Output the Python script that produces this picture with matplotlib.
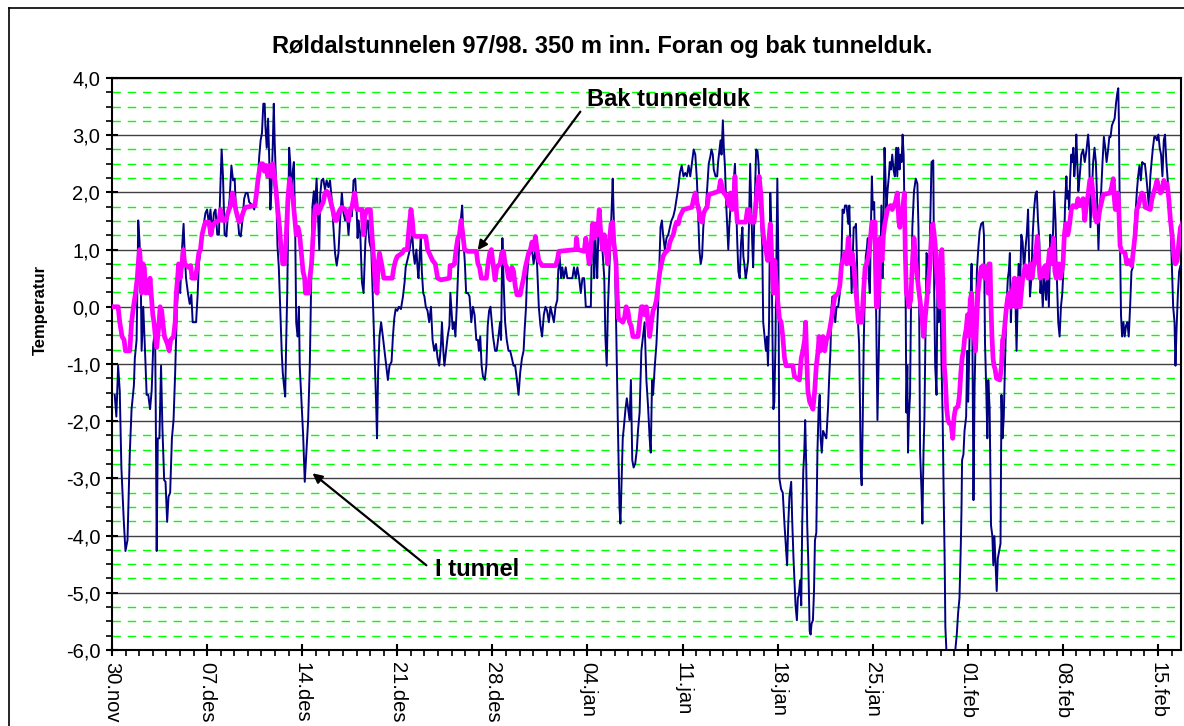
import numpy as np
import matplotlib
matplotlib.use('Agg')
import matplotlib.pyplot as plt
from matplotlib.ticker import MultipleLocator, FixedLocator
from matplotlib.lines import Line2D

plt.rcParams['font.family'] = ['Liberation Sans', 'DejaVu Sans']

# dager etter 30.nov
tick_labels = ['30.nov', '07.des', '14.des', '21.des', '28.des', '04.jan',
               '11.jan', '18.jan', '25.jan', '01.feb', '08.feb', '15.feb']

# I tunnel (blaa)
blue_day = [
    0.20, 0.32, 0.45, 0.57, 0.69, 0.87, 0.99, 1.14, 1.31, 1.44, 1.61, 1.68, 1.81, 1.88, 1.93,
    2.03, 2.13, 2.18, 2.30, 2.43, 2.55, 2.67, 2.80, 2.92, 3.04, 3.17, 3.22, 3.29, 3.37, 3.49,
    3.61, 3.71, 3.84, 3.94, 4.06, 4.16, 4.28, 4.41, 4.53, 4.65, 4.78, 4.90, 5.02, 5.15, 5.27,
    5.35, 5.45, 5.59, 5.72, 5.84, 5.94, 6.19, 6.31, 6.39, 6.53, 6.63, 6.76, 6.88, 7.00, 7.13,
    7.25, 7.38, 7.50, 7.62, 7.75, 7.87, 7.95, 8.07, 8.17, 8.29, 8.42, 8.54, 8.66, 8.79, 8.91,
    9.03, 9.11, 9.23, 9.36, 9.48, 9.60, 9.73, 9.85, 9.98, 10.10, 10.35, 10.47, 10.59, 10.72, 10.84,
    10.94, 11.04, 11.14, 11.24, 11.29, 11.39, 11.49, 11.58, 11.66, 11.73, 11.83, 11.91, 11.98, 12.08, 12.18,
    12.28, 12.38, 12.50, 12.57, 12.65, 12.75, 12.82, 12.90, 12.97, 13.04, 13.12, 13.19, 13.32, 13.39, 13.49,
    13.56, 13.66, 13.76,
    13.82, 13.95, 14.07, 14.19, 14.32, 14.44, 14.56, 14.69, 14.76, 14.86, 14.94, 15.06, 15.18, 15.26, 15.33,
    15.43, 15.55, 15.68, 15.80, 15.93, 16.05, 16.17, 16.30, 16.42, 16.54, 16.67, 16.79, 16.92, 17.04, 17.16,
    17.29, 17.41, 17.54, 17.66, 17.78, 17.91, 17.98, 18.08, 18.15, 18.28, 18.40, 18.52, 18.65, 18.72, 18.82,
    18.95, 19.09, 19.19, 19.27, 19.34, 19.44, 19.51, 19.59, 19.69, 19.81, 19.94, 20.06, 20.18, 20.31, 20.43,
    20.58, 20.68, 20.78, 20.88, 21.00, 21.12, 21.27, 21.42, 21.54, 21.62, 21.74, 21.87, 21.99, 22.11, 22.19,
    22.29, 22.41, 22.49, 22.56, 22.66, 22.73, 22.81, 22.91, 23.00, 23.10, 23.23, 23.35, 23.48, 23.60, 23.72,
    23.85, 23.97, 24.09, 24.22, 24.29, 24.39, 24.47, 24.59, 24.71, 24.84, 24.91, 25.01, 25.08, 25.18, 25.28,
    25.38, 25.48, 25.58, 25.70, 25.78, 25.88, 25.98, 26.07, 26.20, 26.32, 26.45, 26.57, 26.69, 26.82, 26.94,
    27.01, 27.11, 27.21, 27.31, 27.44, 27.56, 27.66, 27.76, 27.86, 27.96, 28.05,
    28.20, 28.32, 28.45, 28.57, 28.64, 28.74, 28.82, 28.94, 29.06, 29.19, 29.31, 29.44, 29.56, 29.68, 29.81,
    29.93, 30.05, 30.18, 30.30, 30.38, 30.48, 30.55, 30.67, 30.80, 30.92, 31.04, 31.17, 31.29, 31.42, 31.54,
    31.66, 31.79, 31.91, 32.03, 32.16, 32.28, 32.41, 32.53, 32.65, 32.78, 32.85, 32.95, 33.07, 33.15, 33.27,
    33.40, 33.52, 33.89, 34.01, 34.14, 34.26, 34.39, 34.51, 34.63, 34.76, 34.88, 35.25, 35.33, 35.43, 35.50,
    35.57, 35.65, 35.72, 35.80, 35.87, 35.95, 36.02, 36.12, 36.24, 36.32, 36.42, 36.51, 36.61, 36.71, 36.81,
    36.86, 36.94, 37.03, 37.11, 37.23, 37.36, 37.43, 37.50, 37.60, 37.68, 37.80, 37.90, 38.00, 38.10, 38.20,
    38.30, 38.40, 38.52, 38.64, 38.72, 38.84, 38.97, 39.09, 39.21, 39.34, 39.46, 39.58, 39.66, 39.76, 39.83,
    39.96, 40.08, 40.20, 40.28, 40.38, 40.48, 40.57, 40.70, 40.82, 40.95, 41.07, 41.19, 41.32, 41.44, 41.56,
    41.69, 41.81, 41.94,
    42.07, 42.20, 42.32, 42.45, 42.57, 42.69, 42.82, 42.94, 43.06, 43.14, 43.24, 43.34, 43.44, 43.53, 43.63,
    43.73, 43.83, 43.93, 44.05, 44.13, 44.23, 44.30, 44.43, 44.55, 44.62, 44.72, 44.80, 44.87, 44.97, 45.04,
    45.12, 45.22, 45.29, 45.37, 45.44, 45.54, 45.66, 45.79, 45.86, 45.96, 46.03, 46.11, 46.21, 46.31, 46.41,
    46.48, 46.55, 46.65, 46.73, 46.83, 46.90, 46.98, 47.05, 47.13, 47.20, 47.27, 47.35, 47.42, 47.52, 47.59,
    47.69, 47.79, 47.87, 47.94, 48.04, 48.14, 48.22, 48.29, 48.37, 48.46, 48.54, 48.61, 48.69, 48.76, 48.84,
    48.91, 48.98, 49.06, 49.13, 49.26, 49.38, 49.51, 49.63, 49.70, 49.78, 49.87, 50.00, 50.07, 50.17, 50.24,
    50.32, 50.42, 50.49, 50.56, 50.66, 50.74, 50.81, 50.89, 50.96, 51.03, 51.11, 51.18, 51.26, 51.31, 51.36,
    51.43, 51.50, 51.60, 51.68, 51.75, 51.85, 51.93, 52.02, 52.10, 52.17, 52.25, 52.35, 52.47, 52.59, 52.72,
    52.79, 52.89, 52.97, 53.04, 53.14, 53.24, 53.34, 53.46, 53.58, 53.71, 53.78, 53.88, 53.96, 54.08, 54.20,
    54.28, 54.38, 54.45, 54.52, 54.60, 54.70, 54.77, 54.85, 54.92, 55.00, 55.07, 55.12, 55.19, 55.27, 55.34,
    55.42, 55.49, 55.56, 55.64, 55.71, 55.79, 55.86, 55.94, 56.01, 56.11,
    56.25, 56.35, 56.45, 56.54, 56.64, 56.72, 56.79, 56.87, 56.94, 57.01, 57.09, 57.19, 57.26, 57.34, 57.44,
    57.53, 57.63, 57.73, 57.81, 57.88, 57.98, 58.05, 58.13, 58.20, 58.28, 58.35, 58.43, 58.48, 58.55, 58.60,
    58.67, 58.75, 58.82, 58.92, 59.04, 59.17, 59.29, 59.37, 59.42, 59.49, 59.59, 59.66, 59.74, 59.81, 59.89,
    59.96, 60.06, 60.16, 60.23, 60.33, 60.46, 60.53, 60.60, 60.70, 60.78, 60.85, 60.93, 61.00, 61.07, 61.15,
    61.22, 61.30, 61.35, 61.42, 61.50, 61.69, 61.94, 62.09, 62.19, 62.29, 62.39, 62.49, 62.54, 62.58, 62.68,
    62.76, 62.88, 62.96, 63.03, 63.13, 63.20, 63.28, 63.33, 63.42, 63.50, 63.57, 63.67, 63.77, 63.87, 63.99,
    64.12, 64.19, 64.27, 64.37, 64.44, 64.51, 64.61, 64.71, 64.81, 64.88, 64.96, 65.06, 65.13, 65.21, 65.31,
    65.41, 65.48, 65.56, 65.65, 65.75, 65.85, 65.95, 66.02, 66.10, 66.17, 66.25, 66.35, 66.42, 66.52, 66.59,
    66.67, 66.74, 66.84, 66.94, 67.04, 67.14, 67.24, 67.34, 67.44, 67.51, 67.58, 67.68, 67.78, 67.88, 67.98,
    68.08, 68.17, 68.27, 68.35, 68.42, 68.52, 68.62, 68.70, 68.77, 68.87, 68.97, 69.07, 69.17, 69.27, 69.36,
    69.46, 69.56, 69.66, 69.76, 69.86, 69.96, 70.06, 70.16, 70.26,
    70.32, 70.40, 70.47, 70.54, 70.62, 70.69, 70.77, 70.84, 70.92, 70.99, 71.06, 71.14, 71.24, 71.36, 71.49,
    71.61, 71.73, 71.86, 71.93, 72.03, 72.13, 72.23, 72.33, 72.43, 72.52, 72.62, 72.72, 72.82, 72.92, 73.02,
    73.12, 73.22, 73.32, 73.42, 73.51, 73.61, 73.71, 73.81, 73.91, 74.01, 74.08, 74.13, 74.21, 74.28, 74.36,
    74.46, 74.55, 74.65, 74.75, 74.85, 74.95, 75.05, 75.15, 75.25, 75.35, 75.45, 75.54, 75.64, 75.74, 75.84,
    75.94, 76.04, 76.14, 76.24, 76.34, 76.44, 76.53, 76.63, 76.73, 76.83, 76.93, 77.03, 77.13, 77.23, 77.33,
    77.43, 77.52, 77.62, 77.72, 77.82, 77.92, 78.02, 78.12, 78.22, 78.29, 78.37, 78.47, 78.56, 78.66, 78.76,
    78.86]
blue_temp = [
    -1.54, -1.92, -1.03, -1.47, -2.81, -3.76, -4.27, -4.08, -2.55, -1.79, -1.38, -0.90, -0.58, 0.50, 1.51,
    1.13, 0.24, -0.77, 0.00, -0.77, -1.54, -1.54, -1.79, -1.47, -0.65, -0.39, -1.79, -4.27, -2.30, -2.30,
    -1.03, -2.11, -3.03, -3.06, -3.76, -3.32, -3.25, -2.30, -1.98, -1.15, 0.00, 0.43, 0.24, 1.00, 1.45,
    0.94, 0.50, 0.24, 0.05, 0.21, -0.27, -0.27, 0.24, 0.75, 1.00, 1.26, 1.45, 1.64, 1.70, 1.45,
    1.70, 1.26, 1.64, 1.70, 1.26, 1.26, 1.89, 2.75, 2.28, 1.26, 1.23, 1.64, 1.89, 2.47, 2.21,
    2.24, 1.77, 1.64, 1.26, 1.23, 1.51, 1.89, 1.99, 1.99, 1.83, 1.77, 1.70, 1.96, 2.15, 2.63,
    2.91, 3.04, 3.55, 3.55, 3.17, 2.78, 3.29, 2.53, 1.70, 2.02, 2.78, 3.55, 2.85, 2.15, 1.07,
    0.69, 0.00, -0.83, -1.15, -1.35, -1.57, -0.65, 0.24, 1.45, 2.78, 2.53, 2.02, 2.40, 2.53, 1.26,
    -0.27, -0.52, 0.00,
    -1.03, -1.66, -2.24, -3.06, -2.49, -1.98, -1.03, 0.75, 1.77, 2.02, 1.70, 2.24, 1.51, 1.00, 1.96,
    2.21, 2.24, 2.05, 2.21, 2.09, 2.21, 1.89, 1.39, 0.94, 0.72, 0.94, 1.51, 1.99, 1.64, 1.51,
    1.64, 1.26, 1.70, 1.58, 2.21, 2.24, 1.89, 1.20, 1.51, 1.26, 0.43, 0.24, 1.13, 1.39, 1.51,
    1.13, 1.00, 0.24, -0.39, -0.96, -1.66, -2.30, -1.15, -0.52, -0.27, -0.52, -0.77, -1.03, -1.28, -1.03,
    -0.96, -0.52, -0.20, -0.04, -0.07, 0.00, -0.04, 0.18, 0.43, 0.69, 0.81, 0.94, 1.13, 1.26, 0.94,
    0.75, 1.00, 0.69, 0.50, 0.94, 1.20, 0.62, 0.24, 0.18, 0.00, -0.07, -0.27, 0.00, -0.58, -0.77,
    -0.65, -0.90, -1.03, -0.65, -0.27, -0.77, -1.03, -0.77, -0.52, -0.33, 0.24, -0.14, -0.39, -0.27, -0.52,
    0.00, 0.62, 1.26, 1.58, 1.77, 1.13, 0.75, 0.24, 0.24, 0.18, -0.27, 0.00, -0.14, -0.58, -0.58,
    -0.77, -0.52, -1.03, -1.22, -1.28, -1.03, -0.33, -0.07, 0.00, -0.27, -0.52,
    -0.77, -0.77, -0.52, -0.27, -0.58, 1.20, 0.50, -0.27, -0.58, -0.77, -0.77, -0.90, -1.03, -1.03, -1.28,
    -1.54, -1.15, -0.90, -0.77, -0.39, 0.00, 0.50, 0.88, 0.94, 1.00, 0.75, 1.00, 0.75, 0.00, -0.33,
    -0.52, -0.14, 0.00, -0.07, -0.27, 0.00, -0.14, -0.27, 0.00, 0.12, 0.62, 0.88, 0.50, 0.69, 0.50,
    0.69, 0.50, 0.50, 0.69, 0.50, 0.69, 0.50, 0.24, 0.50, 0.50, 0.00, 0.00, 1.13, 1.39, 0.50,
    1.26, 0.88, 0.50, 1.26, 1.39, 1.70, 1.26, 0.94, 0.50, -0.52, -1.03, 0.00, 0.62, 1.26, 1.89,
    2.24, 1.51, 0.75, -0.27, -1.92, -3.51, -3.79, -3.19, -2.30, -2.11, -1.79, -1.60, -1.79, -1.98, -1.28,
    -2.68, -2.81, -2.74, -2.49, -2.17, -1.85, -0.77, -0.52, -0.27, -1.28, -1.73, -2.30, -2.55, -1.28, -1.54,
    -1.03, -0.65, 0.00, 0.62, 1.39, 1.51, 1.26, 1.00, 1.20, 1.26, 1.39, 1.51, 1.58, 1.70, 1.89,
    2.09, 2.34, 2.47,
    2.28, 2.34, 2.28, 2.47, 2.28, 2.50, 2.75, 2.66, 2.21, 1.70, 1.00, 0.75, 0.88, 1.39, 1.70,
    1.77, 2.12, 2.50, 2.63, 2.75, 2.66, 2.40, 2.28, 2.28, 2.53, 2.75, 2.91, 2.66, 3.26, 2.78,
    2.47, 1.77, 1.39, 1.00, 1.39, 1.77, 1.83, 2.28, 2.50, 1.70, 1.13, 0.62, 0.50, 1.13, 1.39,
    0.88, 0.75, 0.50, 0.62, 0.81, 1.51, 2.50, 1.89, 1.13, 0.69, 1.39, 2.09, 2.75, 2.72, 2.53,
    2.02, 1.51, 1.07, -0.27, -0.52, -0.77, -0.52, -1.03, -0.27, 1.99, 1.39, -0.27, -1.79, -1.66, -0.65,
    0.88, 2.24, 0.75, -3.00, -3.19, -3.25, -3.82, -4.27, -4.52, -3.82, -3.32, -3.06, -3.70, -4.40, -4.78,
    -5.22, -5.48, -5.09, -5.03, -4.78, -5.22, -3.82, -2.87, -2.55, -1.98, -2.81, -3.82, -4.46, -5.09, -5.67,
    -5.73, -5.54, -5.48, -4.97, -4.08, -3.95, -2.55, -1.79, -1.54, -2.30, -2.55, -2.17, -2.24, -2.30, -1.73,
    -1.28, -0.77, 0.00, 0.18, 0.12, -0.27, 0.00, 0.00, 0.24, 0.94, 1.70, 1.64, 1.77, 1.77, 1.45,
    1.77, 0.88, 0.24, 0.75, 1.39, 1.39, 1.45, 0.75, -0.27, -0.65, -1.79, -2.87, -3.12, -1.92, -0.65,
    0.24, 0.88, 1.00, 1.20, 0.50, 0.24, 1.26, 2.28, 1.70, 1.83,
    0.00, -1.98, -0.77, 0.24, 1.77, 0.50, 1.39, 2.78, 2.28, 1.70, 2.02, 2.28, 2.53, 2.40, 2.66,
    2.40, 2.28, 2.78, 2.28, 2.78, 2.40, 2.66, 2.53, 3.01, 2.66, 1.51, 0.00, -1.85, -1.03, -2.55,
    -1.92, -1.54, 0.00, 1.39, 2.02, 2.24, 2.15, 1.39, 0.00, -2.55, -3.19, -3.79, -2.55, -1.92, -0.39,
    0.94, 0.88, 0.24, 1.39, 2.53, 2.56, 0.24, -1.03, -1.54, 0.75, -0.27, 0.62, 0.00, -1.03, -1.92,
    -3.19, -4.46, -5.60, -5.98, -6.11, -6.50, -6.30, -5.98, -5.73, -5.35, -5.09, -4.14, -3.51, -2.68, -2.58,
    -2.17, -1.92, -0.77, -1.66, -0.52, 0.12, 0.75, -0.14, -3.38, -1.41, -0.65, 0.62, 1.00, 1.32, 1.45,
    1.48, 1.26, -0.65, -1.54, -2.30, -1.28, -1.79, -3.82, -4.01, -4.52, -4.01, -4.59, -4.97, -4.40, -4.27,
    -4.14, -1.54, -2.30, -1.92, -0.90, 0.00, 0.50, 0.62, 0.94, -0.27, 0.24, 0.50, 0.24, 0.00, -0.77,
    0.00, 0.75, 0.24, 1.26, 1.13, 0.62, 1.00, 1.26, 1.70, 0.88, 0.18, 0.50, 1.26, 1.70, 1.96,
    2.02, 1.51, 1.13, 0.24, 0.50, 0.00, 0.50, 0.37, 0.12, 0.75, 0.00, 1.26, 1.00, 1.26, 2.02,
    1.51, 0.50, -0.27, -0.52, 0.00, 0.24, 0.75, 1.77, 2.28,
    1.89, 2.02, 1.70, 2.28, 2.66, 2.53, 2.78, 2.28, 2.53, 3.01, 2.53, 2.02, 2.28, 2.66, 2.75,
    2.53, 2.72, 3.01, 2.78, 1.39, 1.96, 2.53, 2.78, 2.53, 1.89, 1.00, 1.77, 2.02, 2.53, 2.97,
    2.78, 2.53, 2.72, 2.97, 2.97, 3.17, 3.23, 3.29, 3.55, 3.74, 3.82, 3.17, 1.07, -0.14, -0.52,
    -0.27, -0.52, -0.33, -0.27, -0.52, 0.00, 0.62, 0.69, 1.26, 1.64, 2.02, 2.28, 2.47, 2.21, 2.53,
    2.50, 2.50, 2.28, 2.02, 1.70, 2.28, 2.53, 2.78, 2.97, 2.97, 2.91, 3.01, 2.78, 2.66, 2.28,
    2.91, 3.01, 2.53, 2.21, 1.89, 1.51, 0.75, 0.00, -0.27, -1.03, -0.39, 0.24, 0.62, 0.72, 0.69,
    0.75]

# Bak tunnelduk (rosa)
pink_day = [
    0.07, 0.45, 0.57, 0.74, 0.89, 0.99, 1.31, 1.44, 1.58, 1.73, 1.86, 1.93, 2.03, 2.10, 2.18,
    2.28, 2.38, 2.48, 2.57, 2.70, 2.80, 2.92, 3.00, 3.09, 3.19, 3.29, 3.37, 3.47, 3.54, 3.66,
    3.74, 3.86, 3.96, 4.08, 4.21, 4.31, 4.53, 4.65, 4.73, 4.83, 4.90, 5.02, 5.15, 5.25, 5.35,
    5.64, 5.79, 5.89, 6.14, 6.26, 6.39, 6.51, 6.63, 6.76, 6.88, 7.13, 7.28, 7.38, 7.50, 7.62,
    7.87, 7.99, 8.12, 8.37, 8.49, 8.61, 8.74, 8.86, 8.98, 9.11, 9.23, 9.36, 9.48, 9.60, 9.73,
    9.85, 10.52, 10.64, 10.74, 10.84, 10.97, 11.09, 11.21, 11.34, 11.46, 11.58, 11.71, 11.83, 11.96, 12.08,
    12.20, 12.33, 12.45, 12.57, 12.70, 12.82, 12.95, 13.07, 13.19, 13.32, 13.44, 13.56, 13.69, 13.81, 13.94,
    14.06, 14.18,
    14.24, 14.49, 14.56, 14.69, 14.81, 14.94, 15.06, 15.18, 15.31, 15.43, 15.55, 15.68, 15.80, 15.93, 16.05,
    16.17, 16.30, 16.42, 16.54, 16.67, 16.79, 16.92, 17.16, 17.29, 17.41, 17.54, 17.66, 17.78, 17.86, 17.96,
    18.03, 18.40, 18.52, 18.60, 18.77, 19.02, 19.09, 19.19, 19.29, 19.39, 19.51, 19.59, 19.69, 19.79, 19.89,
    20.01, 20.63, 20.75, 20.88, 21.00, 21.37, 21.50, 21.74, 21.82, 21.92, 22.01, 22.11, 22.19, 22.36, 23.10,
    23.23, 23.35, 23.60, 23.80, 23.97, 24.22, 24.84, 24.89, 25.08, 25.21, 25.33, 25.46, 25.58, 25.70, 25.83,
    25.95, 26.20, 26.82, 26.94, 27.06, 27.19, 27.56, 27.68, 27.81, 27.93, 28.05,
    28.20, 28.32, 28.45, 28.57, 28.69, 28.82, 28.94, 29.06, 29.19, 29.31, 29.44, 29.56, 29.68, 29.81, 30.05,
    30.18, 30.30, 30.43, 30.55, 30.67, 30.80, 30.92, 31.04, 31.17, 31.29, 31.42, 31.66, 32.65, 32.78, 32.90,
    34.14, 34.19, 34.29, 34.76, 34.88, 35.00, 35.13, 35.25, 35.38, 35.50, 35.62, 35.75, 35.87, 35.95, 36.04,
    36.12, 36.24, 36.37, 36.49, 36.61, 36.74, 36.86, 36.94, 37.01, 37.11, 37.18, 37.28, 37.60, 37.72, 37.85,
    37.98, 38.10, 38.22, 38.35, 38.72, 38.84, 38.97, 39.09, 39.21, 39.34, 39.46, 39.58, 39.71, 39.83, 39.96,
    40.08, 40.20, 40.33, 40.45, 40.57, 40.70, 40.95, 41.07, 41.19, 41.32, 41.44, 41.56, 41.69, 41.81, 41.94,
    42.06,
    42.69, 42.82, 42.94, 43.06, 43.19, 43.31, 43.44, 43.56, 43.68, 43.81, 43.93, 44.67, 44.80, 44.92, 45.04,
    45.17, 45.29, 45.42, 45.54, 45.66, 45.79, 45.86, 45.96, 46.03, 46.65, 46.78, 46.90, 47.02, 47.27, 47.40,
    47.52, 47.64, 47.77, 47.89, 48.01, 48.14, 48.26, 48.39, 48.46, 48.56, 48.69, 48.78, 48.88, 49.00, 49.13,
    49.26, 49.38, 49.51, 49.63, 50.12, 50.24, 50.61, 50.74, 50.86, 50.99, 51.06, 51.16, 51.23, 51.36, 51.60,
    51.73, 51.85, 51.98, 52.05, 52.15, 52.25, 52.35, 52.47, 52.59, 52.72, 52.84, 52.97, 53.09, 53.21, 53.46,
    53.58, 53.71, 53.83, 53.96, 54.08, 54.20, 54.28, 54.38, 54.48, 54.60, 54.72, 54.82, 54.95, 55.19, 55.32,
    55.44, 55.56, 55.69, 55.81, 55.94, 56.18,
    56.20, 56.27, 56.35, 56.45, 56.54, 56.62, 56.69, 56.79, 56.89, 57.09, 57.31, 57.44, 57.56, 57.68, 57.81,
    57.93, 58.00, 58.10, 58.20, 58.33, 58.40, 58.48, 58.57, 58.67, 58.80, 58.92, 59.04, 59.17, 59.29, 59.42,
    59.54, 59.66, 59.74, 59.84, 59.94, 60.03, 60.13, 60.23, 60.33, 60.43, 60.53, 60.63, 60.73, 60.83, 60.93,
    61.02, 61.10, 61.20, 61.27, 61.35, 61.45, 61.54, 61.64, 61.77, 61.89, 61.99, 62.09, 62.29, 62.39, 62.49,
    62.58, 62.68, 62.78, 62.88, 62.98, 63.08, 63.18, 63.28, 63.38, 63.47, 63.57, 63.65, 63.75, 63.87, 63.99,
    64.12, 64.24, 64.37, 64.49, 64.56, 64.64, 64.71, 64.78, 64.86, 64.93, 65.01, 65.11, 65.36, 65.48, 65.56,
    65.65, 65.75, 65.85, 65.95, 66.05, 66.15, 66.25, 66.35, 66.44, 66.54, 66.64, 66.74, 66.84, 66.94, 67.04,
    67.24, 67.34, 67.44, 67.53, 67.63, 67.73, 67.83, 67.93, 68.03, 68.12, 68.22, 68.32, 68.52, 68.62, 68.72,
    68.82, 68.92, 69.02, 69.12, 69.22, 69.32, 69.41, 69.51, 69.61, 69.71, 69.81, 69.91, 70.01, 70.11, 70.21,
    70.31,
    70.37, 70.50, 70.62, 70.74, 70.99, 71.11, 71.24, 71.49, 71.61, 71.73, 71.86, 71.98, 72.10, 72.23, 72.35,
    72.48, 72.60, 72.72, 72.85, 72.97, 73.47, 73.59, 73.71, 73.79, 73.86, 73.96, 74.03, 74.11, 74.21, 74.33,
    74.58, 74.70, 74.83, 74.95, 75.07, 75.20, 75.32, 75.45, 75.57, 75.69, 75.82, 75.94, 76.06, 76.44, 76.56,
    76.68, 76.81, 76.93, 77.05, 77.18, 77.30, 77.43, 77.55, 77.67, 77.80, 77.92, 78.04, 78.17, 78.29, 78.42,
    78.54, 78.66, 78.79, 78.86]
pink_temp = [
    0.00, 0.00, -0.27, -0.52, -0.58, -0.77, -0.77, -0.27, 0.00, 0.24, 0.50, 0.75, 1.00, 0.75, 0.24,
    0.75, 0.69, 0.24, 0.43, 0.24, 0.50, 0.12, -0.14, -0.27, -0.52, -0.71, -0.52, -0.27, 0.00, -0.07,
    -0.27, -0.52, -0.58, -0.65, -0.77, -0.58, -0.52, -0.27, 0.24, 0.50, 0.75, 0.50, 0.75, 1.00, 0.75,
    0.69, 0.72, 0.50, 0.50, 0.69, 0.94, 1.00, 1.26, 1.39, 1.48, 1.48, 1.26, 1.39, 1.45, 1.48,
    1.51, 1.70, 1.51, 1.51, 1.61, 1.70, 1.77, 1.99, 1.89, 1.70, 1.58, 1.48, 1.51, 1.61, 1.70,
    1.74, 1.77, 1.99, 2.21, 2.37, 2.50, 2.50, 2.37, 2.47, 2.28, 2.47, 2.28, 2.50, 2.28, 2.02,
    1.70, 1.39, 1.00, 0.75, 0.75, 1.20, 1.89, 2.24, 2.02, 1.89, 1.58, 1.26, 1.39, 1.26, 0.94,
    0.62, 0.50,
    0.24, 0.24, 0.50, 0.75, 1.26, 1.70, 1.77, 1.64, 1.70, 1.77, 1.83, 1.99, 2.02, 1.99, 1.89,
    1.77, 1.64, 1.51, 1.51, 1.64, 1.70, 1.74, 1.70, 1.64, 1.51, 1.70, 1.74, 1.89, 1.99, 1.83,
    1.70, 1.70, 1.26, 1.58, 1.70, 1.70, 1.45, 1.07, 0.75, 0.37, 0.24, 0.75, 0.94, 0.81, 0.69,
    0.50, 0.50, 0.69, 0.81, 0.88, 0.94, 1.00, 1.00, 1.26, 1.51, 1.70, 1.51, 1.26, 1.23, 1.23,
    1.00, 0.94, 0.81, 0.75, 0.50, 0.47, 0.50, 0.72, 0.72, 0.75, 1.00, 1.20, 1.26, 1.51, 1.26,
    1.00, 0.97, 0.97, 0.75, 0.69, 0.50, 0.50, 0.75, 0.94, 1.00, 0.75,
    0.47, 0.69, 0.72, 0.75, 0.94, 0.97, 0.75, 0.69, 0.50, 0.47, 0.69, 0.62, 0.37, 0.21, 0.21,
    0.37, 0.50, 0.69, 0.81, 0.94, 1.00, 1.13, 1.00, 1.23, 1.00, 0.81, 0.72, 0.72, 0.81, 0.97,
    1.00, 1.20, 1.00, 0.97, 1.20, 1.00, 0.75, 1.00, 1.45, 1.20, 1.45, 1.26, 1.70, 1.39, 1.13,
    1.00, 1.26, 1.00, 0.75, 1.13, 1.45, 1.48, 1.13, 1.00, 0.75, 0.24, -0.20, -0.27, -0.20, 0.00,
    -0.07, -0.27, -0.33, -0.52, -0.52, -0.27, 0.00, 0.00, -0.14, 0.00, -0.27, -0.52, -0.27, -0.07, 0.00,
    0.12, 0.37, 0.62, 0.75, 0.88, 0.94, 1.00, 1.13, 1.20, 1.26, 1.39, 1.48, 1.45, 1.58, 1.64,
    1.70,
    1.74, 1.89, 1.99, 1.83, 1.70, 1.51, 1.48, 1.64, 1.70, 1.74, 1.96, 2.02, 2.21, 2.09, 1.99,
    1.96, 1.89, 1.77, 1.99, 1.70, 1.89, 2.28, 1.70, 1.48, 1.48, 1.70, 1.70, 1.48, 1.48, 1.77,
    2.12, 2.28, 1.96, 1.39, 1.13, 1.00, 0.81, 1.26, 1.45, 0.94, 0.24, 0.81, 0.50, 0.12, -0.20,
    -0.27, -0.52, -0.90, -1.03, -1.03, -1.22, -1.28, -0.90, -0.77, -0.58, -0.27, -1.03, -1.47, -1.66, -1.79,
    -1.47, -1.03, -0.77, -0.52, -0.77, -0.58, -0.52, -0.77, -0.58, -0.52, -0.39, -0.20, 0.00, 0.18, 0.24,
    0.37, 0.75, 0.81, 0.94, 0.75, 1.20, 0.81, 0.75, 0.94, 0.75, 0.37, 0.12, -0.27, -0.27, 0.24,
    0.69, 0.75, 0.88, 1.13, 1.48, 1.48,
    0.75, 0.00, 0.00, 0.24, 1.20, 1.00, 0.81, 1.26, 1.45, 1.70, 1.77, 1.70, 1.77, 1.83, 1.99,
    1.48, 1.39, 1.70, 1.70, 1.99, 0.94, 0.24, 0.18, 0.00, 0.12, 0.75, 1.20, 0.81, 0.50, 0.24,
    0.00, -0.27, -0.52, -0.27, 0.00, 0.24, 0.50, 0.75, 1.26, 1.45, 1.26, 1.00, 0.50, 0.24, 0.00,
    0.94, 1.00, 0.00, -1.03, -1.28, -1.79, -1.98, -2.04, -2.04, -2.30, -1.92, -1.79, -1.73, -1.54, -1.15,
    -0.90, -0.77, -0.52, -0.39, -0.14, -0.52, 0.12, 0.24, -0.14, -0.52, -0.77, -0.27, 0.24, 0.50, 0.69,
    0.72, 0.50, 0.69, 0.24, 0.75, 0.75, 0.00, -0.52, -0.90, -1.03, -1.09, -1.25, -1.28, -1.03, -0.58,
    -0.52, -0.27, 0.00, 0.18, 0.24, 0.00, 0.24, 0.37, 0.50, 0.00, 0.24, 0.50, 0.00, 0.24, 0.50,
    0.72, 0.69, 0.50, 0.69, 0.75, 0.50, 0.69, 0.81, 1.00, 1.23, 0.81, 0.50, 0.56, 0.69, 0.72,
    0.50, 0.75, 1.00, 0.75, 1.00, 1.20, 0.62, 0.50, 0.69, 0.75, 0.50, 0.62, 0.75, 1.26, 1.45,
    1.26,
    1.26, 1.45, 1.70, 1.77, 1.74, 1.89, 1.77, 1.89, 1.51, 1.77, 1.96, 2.21, 2.24, 1.96, 1.58,
    1.48, 1.51, 1.70, 1.83, 1.96, 1.99, 2.09, 2.24, 1.89, 1.70, 1.96, 1.99, 1.77, 1.07, 0.97,
    0.94, 0.75, 0.81, 0.75, 0.72, 1.00, 1.26, 1.70, 1.77, 1.89, 1.99, 1.96, 1.74, 1.70, 1.89,
    1.99, 2.09, 2.21, 2.09, 1.99, 2.02, 2.21, 2.09, 2.15, 1.89, 1.51, 1.26, 0.88, 0.75, 0.81,
    1.13, 1.39, 1.45, 1.51]

fig = plt.figure(figsize=(11.84, 7.26), dpi=100)
ax = fig.add_axes([0.0946, 0.1047, 0.9029, 0.7879])

ax.plot(blue_day, blue_temp, color='#000080', lw=1.4, zorder=3)
ax.plot(pink_day, pink_temp, color='#ff00ff', lw=3.4, zorder=4)

ax.set_xlim(0, 78.7)
ax.set_ylim(-6, 4)

ax.xaxis.set_major_locator(FixedLocator(np.arange(0, 78, 7)))
ax.xaxis.set_minor_locator(MultipleLocator(1))
ax.set_xticklabels(tick_labels, rotation=-90, fontsize=14.5)

ax.yaxis.set_major_locator(MultipleLocator(1))
ax.yaxis.set_minor_locator(MultipleLocator(0.25))
yt = np.arange(-6, 4.01, 1)
ax.set_yticks(yt)
ax.set_yticklabels([('%.1f' % v).replace('.', ',') for v in yt], fontsize=14.5)

ax.grid(which='major', axis='y', color='#404040', lw=1.0, ls='-')
ax.grid(which='minor', axis='y', color='#00ff00', lw=1.0, ls=(0, (6, 5)))
ax.set_axisbelow(True)

ax.tick_params(axis='both', which='major', direction='inout', length=9, width=1.5, pad=4)
ax.tick_params(axis='both', which='minor', direction='out', length=4, width=1.2)
for s in ax.spines.values():
    s.set_linewidth(1.5)

ax.set_ylabel('Temperatur', fontsize=12, fontweight='bold')
ax.yaxis.set_label_coords(-0.060, 0.594)
fig.text(0.509, 1 - 47 / 726, 'Røldalstunnelen 97/98. 350 m inn. Foran og bak tunnelduk.',
         fontsize=17, fontweight='bold', ha='center', va='center')

# piler og tekst
ax.annotate('', xy=(26.8, 0.95), xytext=(34.6, 3.45),
            arrowprops=dict(arrowstyle='-|>', color='black', lw=1.6, mutation_scale=14))
ax.text(35.0, 3.62, 'Bak tunnelduk', fontsize=17, fontweight='bold', va='center', ha='left')
ax.annotate('', xy=(14.6, -2.88), xytext=(23.3, -4.55),
            arrowprops=dict(arrowstyle='-|>', color='black', lw=1.6, mutation_scale=14))
ax.text(23.8, -4.6, 'I tunnel', fontsize=17, fontweight='bold', va='center', ha='left')

# ramme rundt
fig.add_artist(Line2D([9 / 1184, 9 / 1184], [0, 1 - 8 / 726], color='black', lw=1.2))
fig.add_artist(Line2D([9 / 1184, 1], [1 - 8 / 726, 1 - 8 / 726], color='black', lw=1.2))

fig.savefig('out.png', dpi=100)
